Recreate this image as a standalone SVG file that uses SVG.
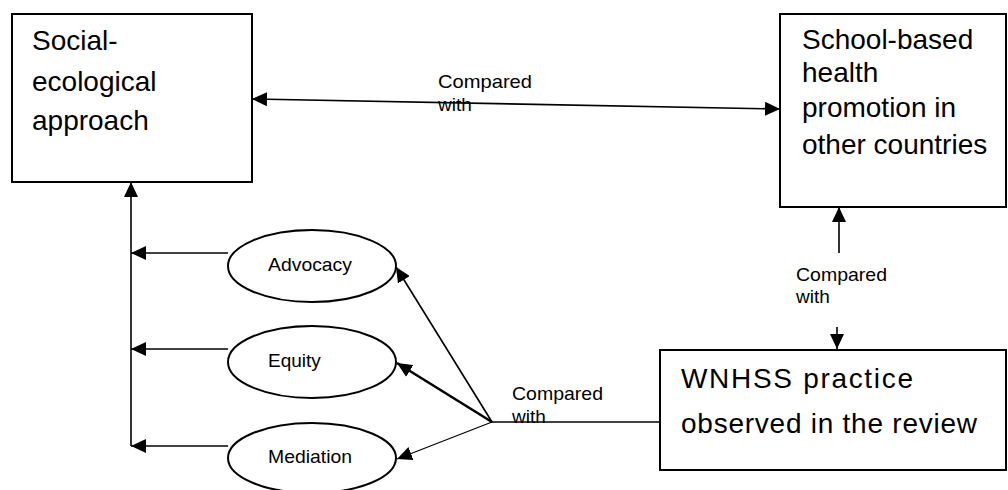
<svg xmlns="http://www.w3.org/2000/svg" width="1008" height="490" viewBox="0 0 1008 490">
<style>
.box{fill:#fff;stroke:#000;stroke-width:2}
.ell{fill:#fff;stroke:#000;stroke-width:2}
.big{font-family:"Liberation Sans",Arial,sans-serif;font-size:28px;fill:#000}
.mid{font-family:"Liberation Sans",Arial,sans-serif;font-size:19px;fill:#000}
.lbl{font-family:"Liberation Sans",Arial,sans-serif;font-size:19px;fill:#000}
.con{fill:none;stroke:#000;stroke-width:1.6}
</style>
<defs>
<marker id="ah" markerUnits="userSpaceOnUse" markerWidth="16" markerHeight="14" refX="15" refY="7" orient="auto">
<path d="M0,0 L15,7 L0,14 Z" fill="#000"/>
</marker>
<marker id="ahs" markerUnits="userSpaceOnUse" markerWidth="16" markerHeight="14" refX="15" refY="7" orient="auto-start-reverse">
<path d="M0,0 L15,7 L0,14 Z" fill="#000"/>
</marker>
</defs>

<g id="connectors">
<line class="con" x1="252" y1="99" x2="780" y2="109" marker-start="url(#ahs)" marker-end="url(#ah)"/>
<line class="con" x1="131" y1="446" x2="131" y2="182" marker-end="url(#ah)"/>
<line class="con" x1="228" y1="253" x2="131" y2="253" marker-end="url(#ah)"/>
<line class="con" x1="228" y1="349" x2="131" y2="349" marker-end="url(#ah)"/>
<line class="con" x1="228" y1="446" x2="131" y2="446" marker-end="url(#ah)"/>
<line class="con" x1="492" y1="422" x2="396" y2="267" marker-end="url(#ah)"/>
<line class="con" style="stroke-width:2.6" x1="492" y1="422" x2="397" y2="363" marker-end="url(#ah)"/>
<line class="con" style="stroke-width:1.2" x1="492" y1="422" x2="397" y2="459" marker-end="url(#ah)"/>
<line class="con" x1="492" y1="422" x2="660" y2="422"/>
<line class="con" x1="839" y1="253" x2="839" y2="207" marker-end="url(#ah)"/>
<line class="con" x1="837" y1="327" x2="837" y2="349" marker-end="url(#ah)"/>
<text class="lbl" x="438" y="88" textLength="94" lengthAdjust="spacingAndGlyphs">Compared</text>
<text class="lbl" x="438" y="111">with</text>
<text class="lbl" x="796" y="281" textLength="91" lengthAdjust="spacingAndGlyphs">Compared</text>
<text class="lbl" x="796" y="303">with</text>
<text class="lbl" x="512" y="400" textLength="91" lengthAdjust="spacingAndGlyphs">Compared</text>
<text class="lbl" x="512" y="423">with</text>
</g>

<g id="social-ecological">
<rect class="box" x="12" y="14" width="240" height="168"/>
<text class="big" x="32" y="50">Social-</text>
<text class="big" x="32" y="91">ecological</text>
<text class="big" x="32" y="130">approach</text>
</g>

<g id="school-based">
<rect class="box" x="780" y="14" width="226" height="193"/>
<text class="big" x="802" y="49">School-based</text>
<text class="big" x="802" y="82">health</text>
<text class="big" x="802" y="117">promotion in</text>
<text class="big" x="802" y="154">other countries</text>
</g>

<g id="wnhss">
<rect class="box" x="660" y="350" width="346" height="120"/>
<text class="big" x="681" y="388" textLength="232" lengthAdjust="spacing">WNHSS practice</text>
<text class="big" x="681" y="433" textLength="296" lengthAdjust="spacing">observed in the review</text>
</g>

<g id="advocacy">
<ellipse class="ell" cx="312" cy="266" rx="84" ry="36"/>
<text class="mid" x="268" y="271" textLength="84" lengthAdjust="spacingAndGlyphs">Advocacy</text>
</g>
<g id="equity">
<ellipse class="ell" cx="312" cy="362" rx="84" ry="36"/>
<text class="mid" x="268" y="367">Equity</text>
</g>
<g id="mediation">
<ellipse class="ell" cx="312" cy="458" rx="84" ry="35"/>
<text class="mid" x="268" y="463" textLength="84" lengthAdjust="spacingAndGlyphs">Mediation</text>
</g>
</svg>
